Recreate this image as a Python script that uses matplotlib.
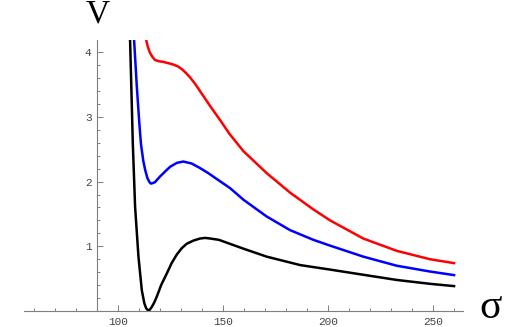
#!/usr/bin/env python3
# -*- coding: utf-8 -*-
# Potencial V(sigma) para tres valores del parametro (estilo Mathematica).

import matplotlib
matplotlib.use("Agg")
import matplotlib.pyplot as plt
from matplotlib.ticker import MultipleLocator

# Datos
SIGMA_NEGRO = [105.7, 106.5, 107.0, 108.1, 109.7, 111.3, 112.5, 113.4, 114.3,
               115.1, 116.0, 117.2, 118.4, 120.5, 123.2, 125.5, 127.9, 130.3,
               132.7, 136.0, 139.0, 141.4, 144.0, 148.0, 154.0, 160.0, 170.8,
               186.7, 201.0, 216.8, 232.7, 248.6, 260.0]
V_NEGRO = [4.20, 3.22, 2.60, 1.61, 0.84, 0.32, 0.12, 0.04, 0.01,
           0.02, 0.06, 0.13, 0.22, 0.40, 0.58, 0.74, 0.87, 0.97,
           1.04, 1.09, 1.12, 1.13, 1.12, 1.10, 1.03, 0.96, 0.84,
           0.71, 0.64, 0.56, 0.48, 0.42, 0.385]

SIGMA_AZUL = [107.6, 108.9, 110.1, 110.9, 112.0, 112.9, 114.0, 115.0, 115.6,
              116.3, 117.5, 120.0, 122.5, 124.8, 128.0, 131.1, 135.0, 139.0,
              143.0, 147.0, 153.3, 159.7, 170.8, 181.9, 193.0, 201.0, 216.8,
              232.7, 248.6, 260.0]
V_AZUL = [4.20, 3.48, 2.91, 2.58, 2.32, 2.18, 2.05, 1.99, 1.97,
          1.975, 1.99, 2.08, 2.16, 2.23, 2.29, 2.31, 2.28, 2.21,
          2.13, 2.04, 1.90, 1.72, 1.46, 1.25, 1.10, 1.01, 0.84,
          0.70, 0.61, 0.555]

SIGMA_ROJO = [113.3, 114.2, 115.2, 116.3, 117.6, 119.5, 121.6, 124.0, 126.3,
              128.5, 130.3, 132.3, 134.3, 136.7, 139.0, 143.8, 148.6, 153.0,
              159.7, 170.8, 181.9, 193.0, 201.0, 216.8, 232.7, 248.6, 260.0]
V_ROJO = [4.20, 4.08, 3.99, 3.93, 3.88, 3.86, 3.85, 3.83, 3.81,
          3.78, 3.74, 3.68, 3.61, 3.51, 3.40, 3.17, 2.95, 2.74,
          2.47, 2.13, 1.83, 1.57, 1.40, 1.12, 0.93, 0.80, 0.74]

X_TICKS = [100, 150, 200, 250]
Y_TICKS = [1, 2, 3, 4]

GRIS = "#7f7f7f"


def main():
    fig = plt.figure(figsize=(5.29, 3.27), dpi=100)
    ax = fig.add_axes([0.0454, 0.0489, 0.830, 0.829])

    ax.plot(SIGMA_NEGRO, V_NEGRO, color="black", lw=1.8)
    ax.plot(SIGMA_AZUL, V_AZUL, color="#0000ff", lw=1.8)
    ax.plot(SIGMA_ROJO, V_ROJO, color="#ff0000", lw=1.8)

    ax.set_xlim(55.2, 264.3)
    ax.set_ylim(0, 4.19)

    # ejes cruzando en (90, 0) como en Mathematica
    ax.spines["left"].set_position(("data", 90))
    ax.spines["bottom"].set_position(("data", 0))
    ax.spines["top"].set_visible(False)
    ax.spines["right"].set_visible(False)
    for lado in ("left", "bottom"):
        ax.spines[lado].set_color(GRIS)
        ax.spines[lado].set_linewidth(0.8)

    ax.set_xticks(X_TICKS)
    ax.set_yticks(Y_TICKS)
    ax.xaxis.set_minor_locator(MultipleLocator(10))
    ax.yaxis.set_minor_locator(MultipleLocator(0.2))
    ax.tick_params(which="both", direction="in", color=GRIS, width=0.7)
    ax.tick_params(which="major", length=4, labelsize=8, labelcolor="#444444", pad=4)
    ax.tick_params(which="minor", length=2.5)
    for lbl in ax.get_xticklabels() + ax.get_yticklabels():
        lbl.set_family("Liberation Mono")

    fig.text(98 / 529, 1 - 14 / 327, "V", fontsize=24, family="Liberation Serif",
             ha="center", va="center")
    fig.text(491 / 529, 1 - 308 / 327, "\u03c3", fontsize=30, family="Liberation Serif",
             ha="center", va="center")

    fig.savefig("out.png", dpi=100)
    plt.close(fig)


if __name__ == "__main__":
    main()
